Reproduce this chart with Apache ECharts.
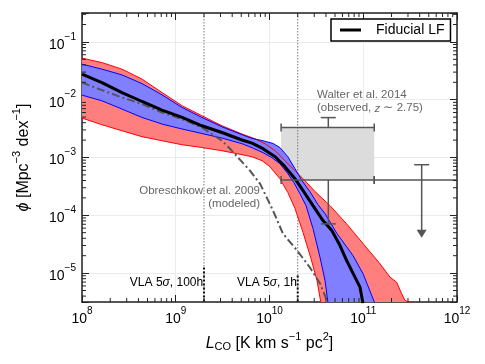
<!DOCTYPE html>
<html>
<head>
<meta charset="utf-8">
<script src="https://cdn.jsdelivr.net/npm/echarts@6/dist/echarts.min.js"></script>
<style>
html, body { margin: 0; padding: 0; background: #fff; }
#lf { width: 485px; height: 364px; }
</style>
</head>
<body>
<div id="lf"></div>
<script>
// fiducial luminosity function (black line)
var fidL = [1e8, 1.63e8, 2.67e8, 4.37e8, 7.13e8, 1.17e9, 1.9e9, 3.11e9, 5.09e9, 6.5e9, 8.53e9, 1.15e10, 1.46e10, 1.87e10, 2.28e10, 2.91e10, 3.72e10, 4.62e10, 5.65e10, 6.65e10, 7.83e10, 9.23e10, 9.93e10];
var fidPhi = [2.77e-2, 1.98e-2, 1.33e-2, 9.31e-3, 6.61e-3, 4.93e-3, 3.54e-3, 2.71e-3, 2.01e-3, 1.77e-3, 1.42e-3, 1.03e-3, 6.94e-4, 4.3e-4, 2.67e-4, 1.47e-4, 8.1e-5, 5.44e-5, 3.0e-5, 1.65e-5, 9.7e-6, 5.71e-6, 3.0e-6];

// Obreschkow et al. 2009 model (dash-dot)
var obrL = [1e8, 1.63e8, 2.67e8, 4.37e8, 7.13e8, 1.17e9, 1.9e9, 3.11e9, 3.79e9, 4.84e9, 6.19e9, 7.92e9, 1.09e10, 1.39e10, 1.97e10, 2.7e10, 3.46e10, 4.21e10];
var obrPhi = [1.98e-2, 1.465e-2, 1.092e-2, 8.4e-3, 6.01e-3, 4.62e-3, 3.31e-3, 1.95e-3, 1.42e-3, 9.17e-4, 5.92e-4, 3.53e-4, 1.21e-4, 4.83e-5, 2.46e-5, 1.25e-5, 6.61e-6, 3.0e-6];

// outer (red) band
var redUpL = [1e8, 1.63e8, 2.67e8, 4.37e8, 7.13e8, 1.17e9, 1.9e9, 3.11e9, 5.09e9, 7.0e9, 8.96e9, 1.15e10, 1.46e10, 1.87e10, 2.39e10, 3.06e10, 4.42e10, 6.65e10, 1.0e11, 1.51e11, 1.93e11, 2.27e11, 2.57e11, 2.79e11, 3.29e11];
var redUpPhi = [5.23e-2, 4.39e-2, 3.38e-2, 2.27e-2, 1.33e-2, 7.85e-3, 5.27e-3, 3.54e-3, 2.55e-3, 2.11e-3, 1.73e-3, 1.31e-3, 8.81e-4, 5.92e-4, 3.97e-4, 2.57e-4, 1.47e-4, 7.1e-5, 3.21e-5, 1.45e-5, 8.5e-6, 6.96e-6, 4.39e-6, 3.36e-6, 3.0e-6];
var redLoL = [1e8, 1.63e8, 2.67e8, 4.37e8, 7.13e8, 1.17e9, 1.9e9, 3.11e9, 5.09e9, 6.5e9, 8.32e9, 1.01e10, 1.29e10, 1.57e10, 1.87e10, 2.28e10, 2.77e10, 3.21e10, 3.54e10];
var redLoPhi = [4.81e-3, 3.69e-3, 2.9e-3, 2.29e-3, 1.95e-3, 1.66e-3, 1.49e-3, 1.31e-3, 1.12e-3, 1.03e-3, 8.81e-4, 6.94e-4, 4.3e-4, 2.47e-4, 1.31e-4, 5.03e-5, 1.79e-5, 7.45e-6, 3.0e-6];

// inner (blue) band
var blueUpL = [1e8, 1.63e8, 2.67e8, 4.37e8, 7.13e8, 1.17e9, 1.9e9, 3.11e9, 5.09e9, 6.5e9, 8.53e9, 1.09e10, 1.29e10, 1.57e10, 1.87e10, 2.22e10, 2.7e10, 3.29e10, 3.91e10, 5.25e10, 7.78e10, 9.93e10, 1.33e11];
var blueUpPhi = [4.12e-2, 3.38e-2, 2.69e-2, 1.9e-2, 1.216e-2, 7.33e-3, 4.93e-3, 3.4e-3, 2.48e-3, 2.14e-3, 1.95e-3, 1.75e-3, 1.49e-3, 1.03e-3, 6.41e-4, 3.97e-4, 2.57e-4, 1.53e-4, 1.07e-4, 4.83e-5, 2.01e-5, 9.84e-6, 3.0e-6];
var blueLoL = [1e8, 1.63e8, 2.67e8, 4.37e8, 7.13e8, 1.17e9, 1.9e9, 3.11e9, 5.09e9, 6.5e9, 8.53e9, 1.06e10, 1.29e10, 1.57e10, 1.82e10, 2.11e10, 2.45e10, 2.91e10, 3.46e10, 3.91e10, 4.21e10];
var blueLoPhi = [1.2e-2, 9.57e-3, 6.88e-3, 4.93e-3, 3.79e-3, 3.11e-3, 2.6e-3, 2.17e-3, 1.73e-3, 1.48e-3, 1.21e-3, 9.93e-4, 7.82e-4, 5.25e-4, 3.67e-4, 2.37e-4, 1.47e-4, 5.89e-5, 1.86e-5, 7.45e-6, 3.0e-6];

// Walter et al. 2014 constraints
var walterBinLo = [1.33e10, 1.33e10, 1.31e11];
var walterBinHi = [1.31e11, 1.31e11, 1.3e12];
var walterMid = [4.24e10, 4.24e10, 4.2e11];
var walterPhi = [3.3e-3, 4.1e-4, 4.1e-4];
var walterErrUp = [4.9e-3, 0, 7.5e-4];
var walterErrDown = [0, 7.1e-5, 0];
var walterArrow = [0, 0, 4.1e-5];
var walterBoxL = [1.33e10, 1.31e11];
var walterBoxPhi = [4.1e-4, 3.3e-3];

// VLA 5 sigma limits
var vlaL = [2e9, 2e10];
var vlaBoldTop = [1.25e-5, 9.1e-6];

// annotations
var noteText = ['Walter et al. 2014', '(observed, {i|z} \u223c 2.75)', 'Obreschkow et al. 2009', '(modeled)', 'VLA 5{i|\u03c3}, 100h', 'VLA 5{i|\u03c3}, 1h'];
var noteL = [3.21e10, 3.21e10, 7.92e9, 7.92e9, 1.96e9, 1.96e10];
var notePhi = [1.22e-2, 7.1e-3, 2.62e-4, 1.56e-4, 6.9e-6, 6.9e-6];
var noteAlign = ['left', 'left', 'right', 'right', 'right', 'right'];
var noteColor = ['#666', '#666', '#666', '#666', '#000', '#000'];
var noteSize = [11.5, 11.5, 11.5, 11.5, 12, 12];

// axis ranges and minor ticks
var xMin = 1e8, xMax = 1e12;
var yMin = 3.1623e-6, yMax = 0.31623;
var xDecades = [1e8, 1e9, 1e10, 1e11];
var yDecades = [1e-6, 1e-5, 1e-4, 1e-3, 1e-2, 1e-1];
var minorMult = [2, 3, 4, 5, 6, 7, 8, 9];

var FONT = '"Liberation Sans", Arial, Helvetica, sans-serif';
var INK = '#222';

function pairs(xs, ys) {
	return xs.map(function (x, i) { return [x, ys[i]]; });
}

function minorList(decades, lo, hi) {
	var out = [];
	decades.forEach(function (d) {
		minorMult.forEach(function (m) {
			var v = d * m;
			if (v > lo && v < hi) out.push(v);
		});
	});
	return out;
}
var xMinor = minorList(xDecades, xMin, xMax);
var yMinor = minorList(yDecades, yMin, yMax);

function powLabel(v) {
	var e = Math.log(v) / Math.LN10;
	if (Math.abs(e - Math.round(e)) > 1e-6) return '';
	e = Math.round(e);
	return '{b|10}{s|' + (e < 0 ? '\u2212' + (-e) : e) + '}';
}
var powRich = {
	b: { fontSize: 14, fontFamily: FONT, color: '#000', lineHeight: 20, verticalAlign: 'bottom' },
	s: { fontSize: 10, fontFamily: FONT, color: '#000', lineHeight: 10, verticalAlign: 'top' }
};
var nameRich = {
	n: { fontSize: 16, fontFamily: FONT, color: '#000', lineHeight: 21, verticalAlign: 'bottom' },
	i: { fontSize: 16, fontFamily: FONT, color: '#000', fontStyle: 'italic', lineHeight: 21, verticalAlign: 'bottom' },
	sup: { fontSize: 11, fontFamily: FONT, color: '#000', lineHeight: 10, verticalAlign: 'top' },
	sub: { fontSize: 11, fontFamily: FONT, color: '#000', lineHeight: 9, verticalAlign: 'bottom' }
};

function frameAxis(pos, isX, main) {
	return {
		type: 'log',
		logBase: 10,
		position: pos,
		min: isX ? xMin : yMin,
		max: isX ? xMax : yMax,
		axisLine: { show: true, onZero: false, lineStyle: { color: INK, width: 1.5 } },
		axisTick: { show: true, inside: true, length: 7, lineStyle: { color: INK, width: 1 } },
		axisLabel: { show: main, formatter: powLabel, rich: powRich, margin: isX ? 4 : 6 },
		splitLine: { show: main, lineStyle: { color: '#ebebeb', width: 1 } }
	};
}

var xMain = frameAxis('bottom', true, true);
xMain.name = '{i|L}{sub|CO}{n| [K km s}{sup|\u22121}{n| pc}{sup|2}{n|]}';
xMain.nameLocation = 'middle';
xMain.nameGap = 29;
xMain.nameTextStyle = { fontFamily: FONT, fontSize: 16, color: '#000', rich: nameRich };

var yMain = frameAxis('left', false, true);
yMain.name = '{i|\u03d5}{n| [Mpc}{sup|\u22123}{n| dex}{sup|\u22121}{n|]}';
yMain.nameLocation = 'middle';
yMain.nameGap = 50;
yMain.nameTextStyle = { fontFamily: FONT, fontSize: 16, color: '#000', rich: nameRich };

function bandFill(name, upL, upP, loL, loP, fill, z) {
	return {
		type: 'custom',
		name: name,
		z: z,
		clip: true,
		silent: true,
		data: [[upL[0], upP[0]]],
		renderItem: function (params, api) {
			var pts = [];
			for (var i = 0; i < upL.length; i++) pts.push(api.coord([upL[i], upP[i]]));
			for (var j = loL.length - 1; j >= 0; j--) pts.push(api.coord([loL[j], loP[j]]));
			return { type: 'polygon', shape: { points: pts }, style: { fill: fill, stroke: null } };
		}
	};
}

function edge(xs, ys, color) {
	return {
		type: 'line',
		z: 5,
		data: pairs(xs, ys),
		symbol: 'none',
		silent: true,
		lineStyle: { color: color, width: 1 }
	};
}

var chart = echarts.init(document.getElementById('lf'));

var option = {
	animation: false,
	backgroundColor: '#fff',
	grid: { left: 82, right: 28, top: 13, bottom: 62 },
	legend: {
		data: ['Fiducial LF'],
		left: 331,
		top: 19,
		icon: 'rect',
		itemWidth: 21,
		itemHeight: 3,
		padding: [4, 6, 4, 9],
		borderColor: '#000',
		borderWidth: 1.5,
		borderRadius: 0,
		backgroundColor: '#fff',
		itemStyle: { color: '#000' },
		textStyle: { fontFamily: FONT, fontSize: 14, color: '#000', padding: [0, 0, 0, 10] }
	},
	xAxis: [xMain, frameAxis('top', true, false)],
	yAxis: [yMain, frameAxis('right', false, false)],
	series: [
		{
			// grey box
			type: 'custom',
			z: 1,
			clip: true,
			silent: true,
			data: [[walterBoxL[0], walterBoxPhi[0]]],
			renderItem: function (params, api) {
				var a = api.coord([walterBoxL[0], walterBoxPhi[1]]);
				var b = api.coord([walterBoxL[1], walterBoxPhi[0]]);
				return { type: 'rect', shape: { x: a[0], y: a[1], width: b[0] - a[0], height: b[1] - a[1] }, style: { fill: '#dcdcdc' } };
			}
		},
		{
			// VLA sensitivity lines
			type: 'custom',
			z: 2,
			clip: true,
			silent: true,
			data: pairs(vlaL, vlaBoldTop),
			renderItem: function (params, api) {
				var i = params.dataIndex;
				var top = api.coord([vlaL[i], yMax]);
				var bot = api.coord([vlaL[i], yMin]);
				var mid = api.coord([vlaL[i], vlaBoldTop[i]]);
				return {
					type: 'group',
					children: [
						{ type: 'line', shape: { x1: top[0], y1: top[1], x2: bot[0], y2: bot[1] }, style: { stroke: '#777', lineWidth: 1, lineDash: [1.5, 1.5] } },
						{ type: 'line', shape: { x1: mid[0], y1: mid[1], x2: bot[0], y2: bot[1] }, style: { stroke: '#111', lineWidth: 2, lineDash: [2, 2] } }
					]
				};
			}
		},
		bandFill('red band', redUpL, redUpPhi, redLoL, redLoPhi, '#ff7f7f', 3),
		bandFill('blue band', blueUpL, blueUpPhi, blueLoL, blueLoPhi, '#7f7fff', 4),
		edge(redUpL, redUpPhi, '#ff0000'),
		edge(redLoL, redLoPhi, '#ff0000'),
		edge(blueUpL, blueUpPhi, '#0000ff'),
		edge(blueLoL, blueLoPhi, '#0000ff'),
		{
			name: 'Obreschkow et al. 2009',
			type: 'line',
			z: 6,
			data: pairs(obrL, obrPhi),
			symbol: 'none',
			silent: true,
			lineStyle: { color: '#555', width: 2, type: [8, 3, 2, 3] }
		},
		{
			name: 'Fiducial LF',
			type: 'line',
			z: 7,
			data: pairs(fidL, fidPhi),
			symbol: 'none',
			silent: true,
			itemStyle: { color: '#000' },
			lineStyle: { color: '#000', width: 3 }
		},
		{
			// Walter et al. error bars
			type: 'custom',
			z: 8,
			clip: true,
			silent: true,
			data: pairs(walterMid, walterPhi),
			renderItem: function (params, api) {
				var i = params.dataIndex;
				var st = { stroke: '#555', lineWidth: 1.5 };
				var l = api.coord([walterBinLo[i], walterPhi[i]]);
				var r = api.coord([walterBinHi[i], walterPhi[i]]);
				var c = api.coord([walterMid[i], walterPhi[i]]);
				var kids = [
					{ type: 'line', shape: { x1: l[0], y1: l[1], x2: r[0], y2: r[1] }, style: st },
					{ type: 'line', shape: { x1: l[0], y1: l[1] - 4, x2: l[0], y2: l[1] + 4 }, style: st },
					{ type: 'line', shape: { x1: r[0], y1: r[1] - 4, x2: r[0], y2: r[1] + 4 }, style: st }
				];
				[walterErrUp[i], walterErrDown[i]].forEach(function (v) {
					if (!v) return;
					var e = api.coord([walterMid[i], v]);
					kids.push({ type: 'line', shape: { x1: c[0], y1: c[1], x2: e[0], y2: e[1] }, style: st });
					kids.push({ type: 'line', shape: { x1: e[0] - 7.5, y1: e[1], x2: e[0] + 7.5, y2: e[1] }, style: st });
				});
				if (walterArrow[i]) {
					var t = api.coord([walterMid[i], walterArrow[i]]);
					kids.push({ type: 'line', shape: { x1: c[0], y1: c[1], x2: t[0], y2: t[1] - 6 }, style: st });
					kids.push({ type: 'polygon', shape: { points: [[t[0] - 5, t[1] - 8], [t[0] + 5, t[1] - 8], [t[0], t[1]]] }, style: { fill: '#555' } });
				}
				return { type: 'group', children: kids };
			}
		},
		{
			// minor ticks on all four sides
			type: 'custom',
			z: 9,
			clip: false,
			silent: true,
			data: [[xMin, yMin]],
			renderItem: function (params, api) {
				var cs = params.coordSys;
				var st = { stroke: INK, lineWidth: 1 };
				var kids = [];
				xMinor.forEach(function (v) {
					var x = api.coord([v, yMin])[0];
					kids.push({ type: 'line', shape: { x1: x, y1: cs.y + cs.height, x2: x, y2: cs.y + cs.height - 4 }, style: st });
					kids.push({ type: 'line', shape: { x1: x, y1: cs.y, x2: x, y2: cs.y + 4 }, style: st });
				});
				yMinor.forEach(function (v) {
					var y = api.coord([xMin, v])[1];
					kids.push({ type: 'line', shape: { x1: cs.x, y1: y, x2: cs.x + 4, y2: y }, style: st });
					kids.push({ type: 'line', shape: { x1: cs.x + cs.width, y1: y, x2: cs.x + cs.width - 4, y2: y }, style: st });
				});
				return { type: 'group', children: kids };
			}
		},
		{
			// text annotations
			type: 'custom',
			z: 10,
			clip: false,
			silent: true,
			data: pairs(noteL, notePhi),
			renderItem: function (params, api) {
				var i = params.dataIndex;
				var p = api.coord([noteL[i], notePhi[i]]);
				return {
					type: 'text',
					x: p[0],
					y: p[1],
					style: {
						text: noteText[i],
						align: noteAlign[i],
						verticalAlign: 'middle',
						fill: noteColor[i],
						fontSize: noteSize[i],
						fontFamily: FONT,
						rich: { i: { fontStyle: 'italic', fontSize: noteSize[i], fontFamily: FONT, fill: noteColor[i] } }
					}
				};
			}
		}
	]
};

chart.setOption(option);
</script>
</body>
</html>
